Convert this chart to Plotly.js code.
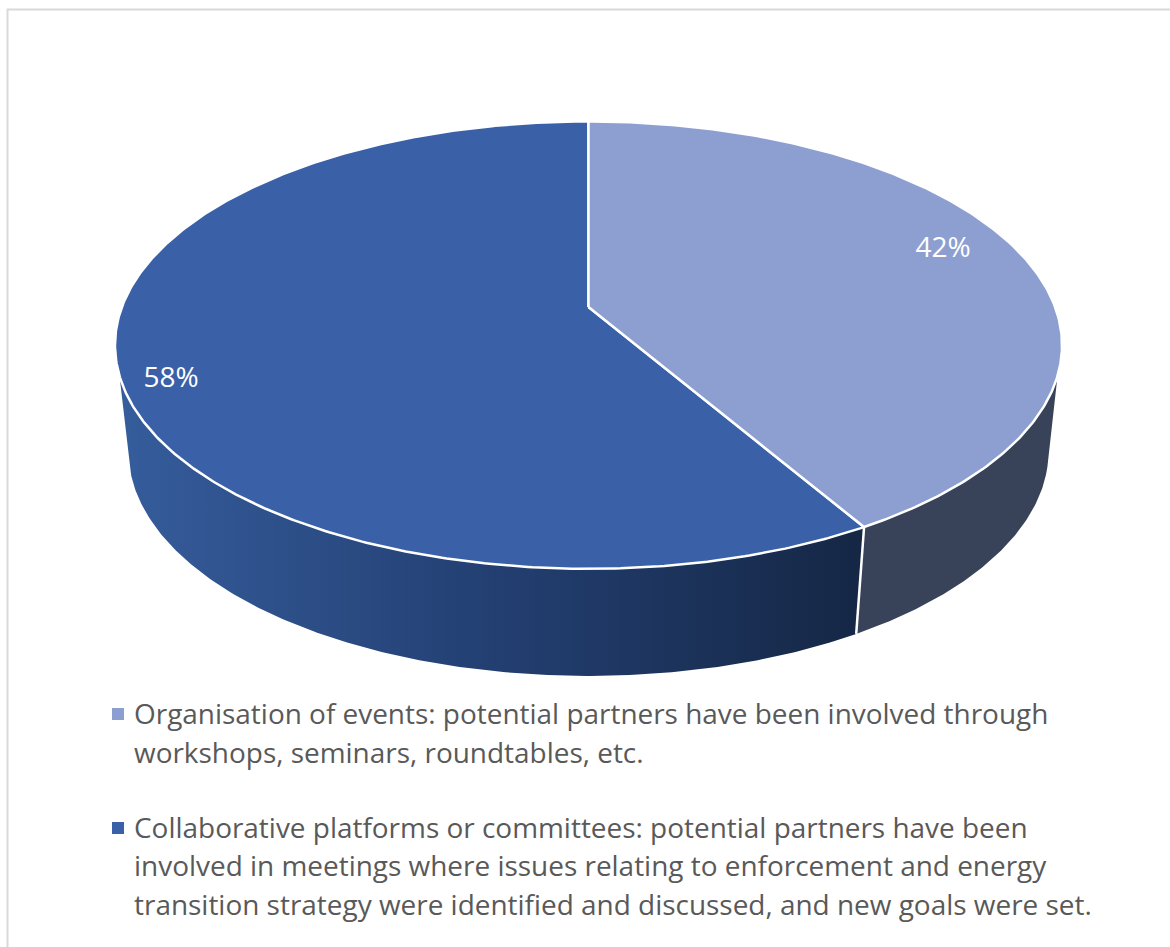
<!DOCTYPE html>
<html>
<head>
<meta charset="utf-8">
<script src="https://cdn.plot.ly/plotly-3.0.1.min.js"></script>
<style>html,body{margin:0;padding:0;background:#fff}#chart{width:1170px;height:947px}</style>
</head>
<body>
<div id="chart"></div>
<script>
// ---- data ----
const categories = ["Organisation of events", "Collaborative platforms or committees"];
const sliceValues = [41.6, 58.4];
const legendLines = [
  ["Organisation of events: potential partners have been involved through",
   "workshops, seminars, roundtables, etc."],
  ["Collaborative platforms or committees: potential partners have been",
   "involved in meetings where issues relating to enforcement and energy",
   "transition strategy were identified and discussed, and new goals were set."]
];

// ---- styling ----
const topColors = ["#8d9fd1", "#3a61a8"];
const sideDark = "#384258";
const sideGradient = [[0, "#355c9b"], [0.5, "#233f72"], [1, "#152745"]];
const textColor = "#595959";
const fontFamily = "'Open Sans', sans-serif";
const legendFontSize = 27.95;
const labelFontSize = 28;
const labelX = [943, 171];
const labelY = [250, 380];
const legendSwatchX = 118;
const legendTextX = 134;
const legendLineY = [[713, 752], [827, 865, 904]];
const legendSwatchY = [714, 828];

// ---- perspective of the disc (pixel axes) ----
const cx = 588.5, k = 0.1704;
const topDisc = {cy: 307, A: 466.6, B: 217.2};
const bottomDisc = {cy: 412.7, A: 453.3, B: 218.4};
const topTangent = 107.5, bottomTangent = 103.8; // degrees clockwise from 12 o'clock

function pt(d, deg) {
  const t = deg * Math.PI / 180, u = Math.sin(t), v = -Math.cos(t), w = 1 - k * v;
  return [cx + d.A * u / w, d.cy + d.B * v / w];
}
function arc(d, a, b) {
  const n = Math.max(2, Math.ceil(Math.abs(b - a) * 2)), out = [];
  for (let i = 0; i <= n; i++) out.push(pt(d, a + (b - a) * i / n));
  return out;
}
const total = sliceValues.reduce((a, b) => a + b, 0);
const split = sliceValues[0] / total * 360;

function poly(points, extra) {
  return Object.assign({
    type: "scatter", mode: "lines", fill: "toself", hoverinfo: "skip", showlegend: false,
    x: points.map(p => p[0]), y: points.map(p => p[1]), line: {width: 0}
  }, extra);
}

const sideRight = arc(topDisc, topTangent, split).concat(arc(bottomDisc, split, bottomTangent));
const sideLeft = arc(topDisc, split, 360 - topTangent).concat(arc(bottomDisc, 360 - bottomTangent, split));
const sepTop = pt(topDisc, split), sepBottom = pt(bottomDisc, split);
const apex = [cx, topDisc.cy];

const traces = [
  poly(sideLeft, {name: categories[1] + " side", fillcolor: "#233f72",
    fillgradient: {type: "horizontal", colorscale: sideGradient, start: 125, stop: 860}}),
  poly(sideRight, {name: categories[0] + " side", fillcolor: sideDark}),
  {type: "scatter", mode: "lines", x: [sepTop[0], sepBottom[0]], y: [sepTop[1], sepBottom[1]],
   line: {color: "#fff", width: 2.5}, hoverinfo: "skip", showlegend: false},
  poly([apex].concat(arc(topDisc, split, 360)).concat([apex]),
    {name: categories[1], fillcolor: topColors[1], line: {color: "#fff", width: 2.5}}),
  poly([apex].concat(arc(topDisc, 0, split)).concat([apex]),
    {name: categories[0], fillcolor: topColors[0], line: {color: "#fff", width: 2.5}}),
  {type: "scatter", mode: "text", x: labelX, y: labelY,
   text: sliceValues.map(v => Math.round(v / total * 100) + "%"),
   textposition: "middle center",
   textfont: {family: fontFamily, size: labelFontSize, color: "#fff"},
   hoverinfo: "skip", showlegend: false},
  {type: "scatter", mode: "markers",
   x: legendSwatchY.map(() => legendSwatchX), y: legendSwatchY,
   marker: {symbol: "square", size: 12, color: topColors, line: {width: 0}},
   hoverinfo: "skip", showlegend: false}
];

const annotations = [];
legendLines.forEach((lines, i) => lines.forEach((txt, j) => {
  annotations.push({
    xref: "x", yref: "y", x: legendTextX, y: legendLineY[i][j], text: txt,
    xanchor: "left", yanchor: "middle", showarrow: false, borderpad: 0, borderwidth: 0,
    font: {family: fontFamily, size: legendFontSize, color: textColor}
  });
}));

const layout = {
  width: 1170, height: 947, margin: {l: 0, r: 0, t: 0, b: 0},
  paper_bgcolor: "#fff", plot_bgcolor: "#fff", showlegend: false,
  xaxis: {range: [0, 1170], visible: false, fixedrange: true},
  yaxis: {range: [947, 0], visible: false, fixedrange: true},
  shapes: [{type: "rect", xref: "x", yref: "y", x0: 7.5, y0: 9.5, x1: 1200, y1: 1000,
            line: {color: "#d9d9d9", width: 2}, layer: "below"}],
  annotations: annotations
};
Plotly.newPlot("chart", traces, layout, {displayModeBar: false, staticPlot: true});
</script>
</body>
</html>
